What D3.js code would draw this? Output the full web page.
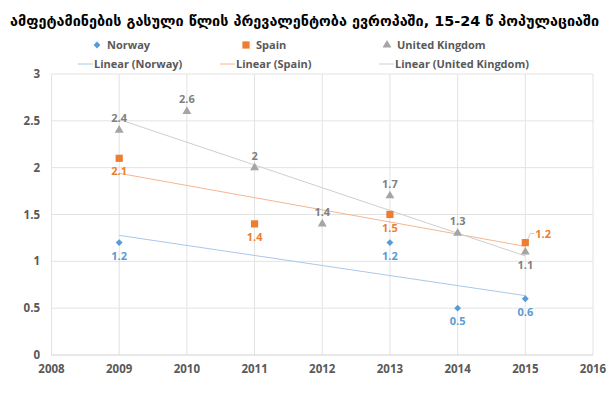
<!DOCTYPE html>
<html>
<head>
<meta charset="utf-8">
<script src="https://cdn.jsdelivr.net/npm/d3@7"></script>
<style>
  body { margin: 0; background: #fff; }
  svg { display: block; font-family: "Open Sans", "DejaVu Sans", sans-serif; }
</style>
</head>
<body>
<svg id="chart" width="612" height="393"></svg>
<script>
var years = [2009, 2010, 2011, 2012, 2013, 2014, 2015];
var norwayYears = [2009, 2013, 2014, 2015];
var norwayValues = [1.2, 1.2, 0.5, 0.6];
var spainYears = [2009, 2011, 2013, 2015];
var spainValues = [2.1, 1.4, 1.5, 1.2];
var ukYears = [2009, 2010, 2011, 2012, 2013, 2014, 2015];
var ukValues = [2.4, 2.6, 2.0, 1.4, 1.7, 1.3, 1.1];
var xTicks = [2008, 2009, 2010, 2011, 2012, 2013, 2014, 2015, 2016];
var yTicks = [0, 0.5, 1, 1.5, 2, 2.5, 3];
var title = 'ამფეტამინების გასული წლის პრევალენტობა ევროპაში, 15-24 წ პოპულაციაში';

var svg = d3.select('#chart');
var x = d3.scaleLinear().domain([2008, 2016]).range([51.5, 593]);
var y = d3.scaleLinear().domain([0, 3]).range([355, 74]);
var textColor = '#595959';

function zip(xs, ys) {
    return xs.map(function (d, i) { return { x: d, y: ys[i] }; });
}
function fit(pts) {
    var mx = d3.mean(pts, function (d) { return d.x; });
    var my = d3.mean(pts, function (d) { return d.y; });
    var sxy = d3.sum(pts, function (d) { return (d.x - mx) * (d.y - my); });
    var sxx = d3.sum(pts, function (d) { return (d.x - mx) * (d.x - mx); });
    var b = sxy / sxx;
    var x0 = d3.min(pts, function (d) { return d.x; });
    var x1 = d3.max(pts, function (d) { return d.x; });
    return [{ x: x0, y: my + b * (x0 - mx) }, { x: x1, y: my + b * (x1 - mx) }];
}

var series = [
    { name: 'Norway', color: '#5B9BD5', trend: '#a9c8ea', symbol: d3.symbolDiamond2, size: 30,
      data: zip(norwayYears, norwayValues) },
    { name: 'Spain', color: '#ED7D31', trend: '#f5b690', symbol: d3.symbolSquare, size: 52,
      data: zip(spainYears, spainValues) },
    { name: 'United Kingdom', color: '#A5A5A5', trend: '#cfcfcf', symbol: d3.symbolTriangle, size: 34,
      data: zip(ukYears, ukValues) }
];

// title, sized to span the width like the original
var titleText = svg.append('text')
    .attr('x', 10).attr('y', 26)
    .attr('font-family', '"DejaVu Sans", sans-serif')
    .attr('font-weight', 'bold')
    .attr('font-size', 15)
    .attr('fill', '#000')
    .text(title);
var tw = titleText.node().getComputedTextLength();
titleText.attr('font-size', Math.min(16, 15 * 590 / tw));

// grid
var grid = svg.append('g');
grid.selectAll('.hg').data(yTicks.filter(function (d) { return d > 0; })).enter().append('line')
    .attr('x1', x(2008)).attr('x2', x(2016))
    .attr('y1', function (d) { return y(d); }).attr('y2', function (d) { return y(d); })
    .attr('stroke', '#e3e3e3').attr('stroke-width', 1);
grid.selectAll('.vg').data(xTicks).enter().append('line')
    .attr('x1', function (d) { return x(d); }).attr('x2', function (d) { return x(d); })
    .attr('y1', y(3)).attr('y2', y(0))
    .attr('stroke', '#e3e3e3').attr('stroke-width', 1);
svg.append('line')
    .attr('x1', x(2008)).attr('x2', x(2016)).attr('y1', y(0)).attr('y2', y(0))
    .attr('stroke', '#d0d0d0').attr('stroke-width', 1);

// axes labels
svg.append('g').selectAll('text').data(yTicks).enter().append('text')
    .attr('x', 40).attr('y', function (d) { return y(d) + 4; })
    .attr('text-anchor', 'end').attr('font-size', 11.5).attr('font-weight', 'bold')
    .attr('fill', textColor).text(function (d) { return d; });
svg.append('g').selectAll('text').data(xTicks).enter().append('text')
    .attr('x', function (d) { return x(d); }).attr('y', 373)
    .attr('text-anchor', 'middle').attr('font-size', 11.5).attr('font-weight', 'bold')
    .attr('fill', textColor).text(function (d) { return d; });

// trendlines
series.forEach(function (s) {
    var t = fit(s.data);
    svg.append('line')
        .attr('x1', x(t[0].x)).attr('y1', y(t[0].y))
        .attr('x2', x(t[1].x)).attr('y2', y(t[1].y))
        .attr('stroke', s.trend).attr('stroke-width', 1);
});

// markers
series.forEach(function (s) {
    svg.append('g').selectAll('path').data(s.data).enter().append('path')
        .attr('d', d3.symbol().type(s.symbol).size(s.size))
        .attr('transform', function (d) { return 'translate(' + x(d.x) + ',' + y(d.y) + ')'; })
        .attr('fill', s.color);
});

// data labels
function labelPos(s, d) {
    if (s.name === 'United Kingdom') {
        if (d.x === 2015) return { dx: 0, dy: 17, anchor: 'middle' };
        return { dx: 0, dy: -8, anchor: 'middle' };
    }
    if (s.name === 'Spain' && d.x === 2015) return { dx: 10, dy: -5, anchor: 'start' };
    return { dx: 0, dy: 17, anchor: 'middle' };
}
series.forEach(function (s) {
    svg.append('g').selectAll('text').data(s.data).enter().append('text')
        .attr('x', function (d) { return x(d.x) + labelPos(s, d).dx; })
        .attr('y', function (d) { return y(d.y) + labelPos(s, d).dy; })
        .attr('text-anchor', function (d) { return labelPos(s, d).anchor; })
        .attr('font-size', 11).attr('font-weight', 'bold')
        .attr('fill', s.name === 'United Kingdom' ? '#7f7f7f' : s.color)
        .text(function (d) { return d.y; });
});
// leader line for Spain 2015 label
var lx = x(2015), ly = y(1.2);
svg.append('path')
    .attr('d', 'M' + (lx + 2) + ',' + (ly - 3) + 'L' + (lx + 5) + ',' + (ly - 9) + 'L' + (lx + 9) + ',' + (ly - 9))
    .attr('fill', 'none').attr('stroke', '#bfbfbf').attr('stroke-width', 0.8);

// legend
var legend1 = [
    { s: series[0], x: 97 }, { s: series[1], x: 246 }, { s: series[2], x: 387 }
];
legend1.forEach(function (l) {
    svg.append('path')
        .attr('d', d3.symbol().type(l.s.symbol).size(l.s.size))
        .attr('transform', 'translate(' + l.x + ',45)')
        .attr('fill', l.s.color);
    svg.append('text')
        .attr('x', l.x + 10).attr('y', 49)
        .attr('font-size', 11).attr('font-weight', 'bold').attr('fill', textColor)
        .text(l.s.name);
});
var legend2 = [
    { s: series[0], x: 78 }, { s: series[1], x: 220 }, { s: series[2], x: 379 }
];
legend2.forEach(function (l) {
    svg.append('line')
        .attr('x1', l.x).attr('x2', l.x + 15).attr('y1', 64).attr('y2', 64)
        .attr('stroke', l.s.trend).attr('stroke-width', 1);
    svg.append('text')
        .attr('x', l.x + 16).attr('y', 68)
        .attr('font-size', 11).attr('font-weight', 'bold').attr('fill', textColor)
        .text('Linear (' + l.s.name + ')');
});
</script>
</body>
</html>
